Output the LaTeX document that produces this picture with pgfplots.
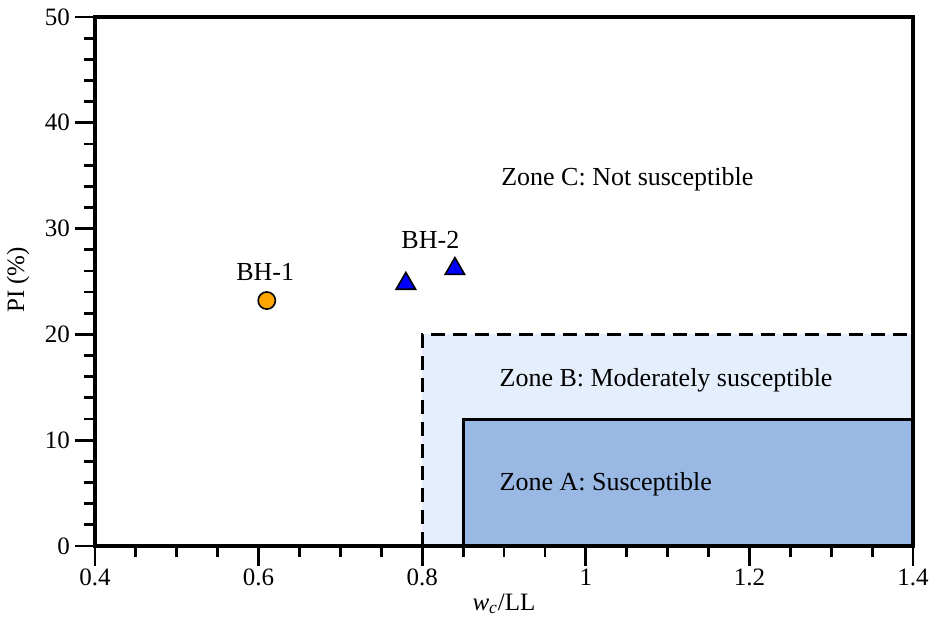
\documentclass[border=0pt]{standalone}
\usepackage{fontspec}
\setmainfont{Liberation Serif}
\usepackage{pgfplots}
\pgfplotsset{compat=1.18}
\definecolor{zoneB}{HTML}{E5EEFC}
\definecolor{zoneA}{HTML}{99B8E3}
\definecolor{orangeM}{HTML}{FFA500}
\begin{document}
\begin{tikzpicture}
\begin{axis}[
  at={(0,0)}, anchor=south west,
  scale only axis, width=409pt, height=264.5pt,
  xmin=0.4, xmax=1.4, ymin=0, ymax=50,
  xtick={0.4,0.6,0.8,1,1.2,1.4},
  xticklabels={0.4,0.6,0.8,1,1.2,1.4},
  ytick={0,10,20,30,40,50},
  minor xtick={0.45,0.5,0.55,0.65,0.7,0.75,0.85,0.9,0.95,1.05,1.1,1.15,1.25,1.3,1.35},
  minor ytick={2,4,6,8,12,14,16,18,22,24,26,28,32,34,36,38,42,44,46,48},
  xtick pos=bottom, ytick pos=left,
  tick align=outside,
  major tick length=10pt, minor tick length=5.5pt,
  every tick/.style={black, line width=1.4pt},
  axis line style={line width=1.6pt},
  /pgf/number format/assume math mode=true,
  ticklabel style={font=\fontsize{12.5}{14}\selectfont},
  xticklabel style={yshift=2pt},
  yticklabel style={xshift=1pt},
  xlabel={\textit{w}\textsubscript{\textit{c}}/LL},
  ylabel={PI (\%)},
  label style={font=\fontsize{12.5}{14}\selectfont},
  xlabel style={at={(axis description cs:0.5,-0.1096)}, anchor=center},
  ylabel style={at={(axis description cs:-0.0941,0.503)}, anchor=center},
  axis on top,
  clip=false,
]
\addplot[fill=zoneB, draw=none] coordinates {(0.8,0) (0.8,20) (1.4,20) (1.4,0)} -- cycle;
\addplot[black, line width=1.5pt, dash pattern=on 7pt off 4pt] coordinates {(0.8,0) (0.8,20) (1.4,20)};
\addplot[fill=zoneA, draw=black, line width=1.5pt] coordinates {(0.85,0) (0.85,12) (1.4,12) (1.4,0)};
\addplot[only marks, mark=*, mark size=4.3pt, mark options={fill=orangeM, draw=black, line width=0.8pt}] coordinates {(0.61,23.2)};
\addplot[only marks, mark=triangle*, mark size=5.6pt, mark options={fill=blue, draw=black, line width=0.8pt}] coordinates {(0.78,24.8) (0.84,26.2)};
\node[font=\fontsize{13}{15}\selectfont] at (axis cs:0.608,25.9) {BH-1};
\node[font=\fontsize{13}{15}\selectfont] at (axis cs:0.81,28.9) {BH-2};
\node[font=\fontsize{13}{15}\selectfont, anchor=west] at (axis cs:0.888,34.7) {Zone C: Not susceptible};
\node[font=\fontsize{13}{15}\selectfont, anchor=west] at (axis cs:0.886,15.7) {Zone B: Moderately susceptible};
\node[font=\fontsize{13}{15}\selectfont, anchor=west] at (axis cs:0.886,5.8) {Zone A: Susceptible};
\end{axis}
\pgfresetboundingbox
\path[use as bounding box] (-47.5pt,-42.5pt) rectangle (420.5pt,273pt);
\end{tikzpicture}
\end{document}
